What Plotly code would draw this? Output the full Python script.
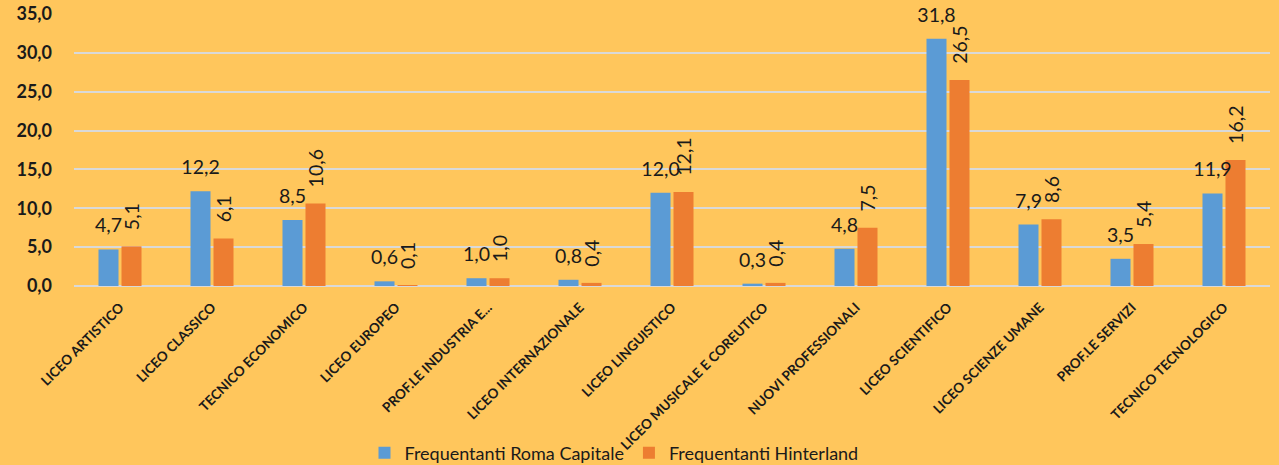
import plotly.graph_objects as go

categories = ["LICEO ARTISTICO", "LICEO CLASSICO", "TECNICO ECONOMICO", "LICEO EUROPEO",
              "PROF.LE INDUSTRIA E...", "LICEO INTERNAZIONALE", "LICEO LINGUISTICO",
              "LICEO MUSICALE E COREUTICO", "NUOVI PROFESSIONALI", "LICEO SCIENTIFICO",
              "LICEO SCIENZE UMANE", "PROF.LE SERVIZI", "TECNICO TECNOLOGICO"]
roma = [4.7, 12.2, 8.5, 0.6, 1.0, 0.8, 12.0, 0.3, 4.8, 31.8, 7.9, 3.5, 11.9]
hinterland = [5.1, 6.1, 10.6, 0.1, 1.0, 0.4, 12.1, 0.4, 7.5, 26.5, 8.6, 5.4, 16.2]
y_ticks = [0, 5, 10, 15, 20, 25, 30, 35]

FONT = "Lato"
BG = "#FFC65C"
TXT = "#1a1a1a"
LABEL_SIZE = 19.5
PAD_ROMA = 1.3      # visual gap (axis units) between bar top and its label
PAD_HINT = 1.7


def fmt(v):
    return f"{v:.1f}".replace(".", ",")


fig = go.Figure()
fig.add_trace(go.Bar(
    x=categories, y=roma, name="Frequentanti Roma Capitale",
    marker=dict(color="#5B9BD5", line=dict(width=0)), offsetgroup="r",
))
fig.add_trace(go.Bar(
    x=categories, y=hinterland, name="Frequentanti Hinterland",
    marker=dict(color="#ED7D31", line=dict(width=0)), offsetgroup="h",
))
# transparent spacer bars that carry the data labels a little above each bar
fig.add_trace(go.Bar(
    x=categories, y=[PAD_ROMA] * len(roma), base=roma, offsetgroup="r",
    marker=dict(color="rgba(0,0,0,0)", line=dict(width=0)), showlegend=False,
    text=[fmt(v) for v in roma], texttemplate="%{text}", textposition="outside",
    textangle=0, constraintext="none", cliponaxis=False, hoverinfo="skip",
    textfont=dict(family=FONT, size=LABEL_SIZE, color=TXT),
))
fig.add_trace(go.Bar(
    x=categories, y=[PAD_HINT] * len(hinterland), base=hinterland, offsetgroup="h",
    marker=dict(color="rgba(0,0,0,0)", line=dict(width=0)), showlegend=False,
    text=[fmt(v) for v in hinterland], texttemplate="%{text}", textposition="outside",
    textangle=-90, constraintext="none", cliponaxis=False, hoverinfo="skip",
    textfont=dict(family=FONT, size=LABEL_SIZE, color=TXT),
))

fig.update_layout(
    width=1279, height=465,
    paper_bgcolor=BG, plot_bgcolor=BG,
    separators=",.",
    margin=dict(l=74, r=9, t=14, b=179, autoexpand=False),
    barmode="group", bargap=0.5, bargroupgap=0.13,
    font=dict(family=FONT, color=TXT),
    showlegend=True,
    legend=dict(orientation="h", x=0.4515, xanchor="center", y=-0.614, yanchor="middle",
                font=dict(family=FONT, size=18, color=TXT),
                bgcolor="rgba(0,0,0,0)", itemwidth=30, tracegroupgap=0),
    xaxis=dict(tickangle=-45, tickfont=dict(family=FONT, size=13.5, color=TXT, weight="bold"),
               showgrid=False, showline=False, ticks="", ticklabelstandoff=10, automargin=False),
    yaxis=dict(range=[0, 35], tickvals=y_ticks, tickformat=".1f",
               tickfont=dict(family=FONT, size=18, color=TXT, weight="bold"),
               showgrid=True, gridcolor="#D9D9D9", gridwidth=2,
               zeroline=True, zerolinecolor="#D9D9D9", zerolinewidth=2,
               showline=False, ticks="", ticklabelstandoff=21, automargin=False),
)

fig.write_html("out.html", config={"displayModeBar": False},
               post_script="document.body.style.margin='0';")
